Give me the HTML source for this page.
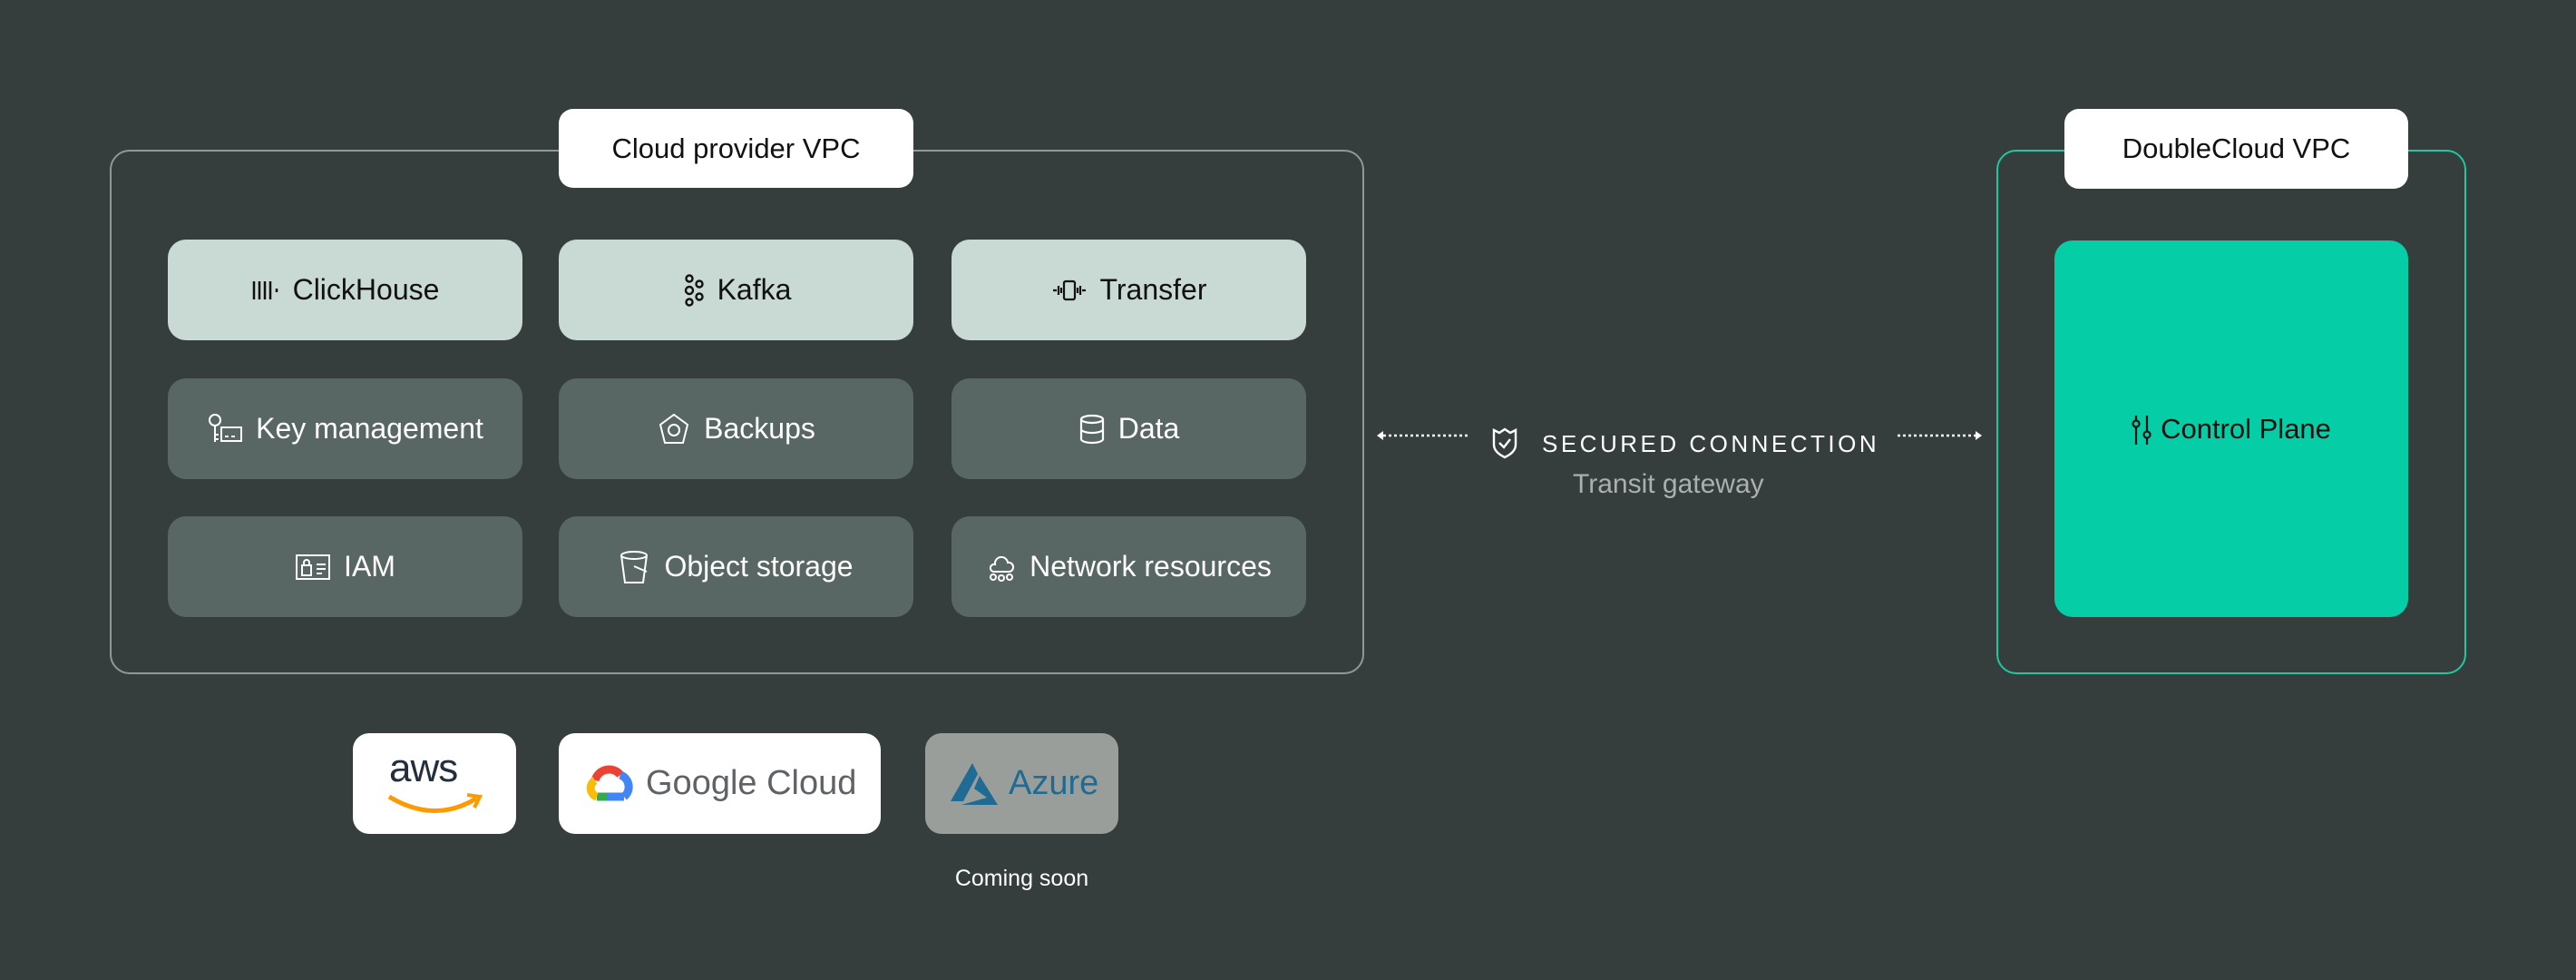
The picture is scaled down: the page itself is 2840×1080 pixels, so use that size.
<!DOCTYPE html>
<html><head><meta charset="utf-8"><style>
body{margin:0;width:2840px;height:1080px;background:#363e3d;position:relative;overflow:hidden;font-family:"Liberation Sans",sans-serif}
.a{position:absolute;box-sizing:border-box}
.box{border:2px solid #8f9a97;border-radius:22px}
.lbl{background:#fff;border-radius:16px;color:#111;font-size:31px;display:flex;align-items:center;justify-content:center}
.t{border-radius:20px;display:flex;align-items:center;justify-content:center;font-size:32px;gap:14px;width:391px;height:111px}
.l{background:#c9d9d4;color:#111}
.d{background:#586763;color:#fff}
svg{display:block}
</style></head><body>
<div class="a box" style="left:121px;top:165px;width:1383px;height:578px"></div>
<div class="a lbl" style="left:616px;top:120px;width:391px;height:87px">Cloud provider VPC</div>

<div class="a t l" style="left:185px;top:264px"><svg width="32" height="26" viewBox="0 0 32 26" stroke="#111" stroke-width="2.5"><path d="M3 3v20M9 3v20M15 3v20M21 3v20M28 11v4"/></svg>ClickHouse</div>
<div class="a t l" style="left:616px;top:264px"><svg width="26" height="36" viewBox="0 0 26 36" fill="none" stroke="#111" stroke-width="2.4"><circle cx="9" cy="5" r="3.5"/><circle cx="9" cy="18" r="4"/><circle cx="9" cy="31" r="3.5"/><circle cx="20" cy="11" r="3.5"/><circle cx="20" cy="25" r="3.5"/></svg>Kafka</div>
<div class="a t l" style="left:1049px;top:264px"><svg width="40" height="26" viewBox="0 0 40 26" fill="none" stroke="#111" stroke-width="2.2"><rect x="14" y="3" width="12" height="20" rx="2"/><path d="M2 13h4M8 8v10M11 10v6M29 10v6M32 8v10M34 13h4"/></svg>Transfer</div>

<div class="a t d" style="left:185px;top:417px"><svg width="40" height="36" viewBox="0 0 40 36" fill="none" stroke="#fff" stroke-width="2"><circle cx="9" cy="8" r="6"/><path d="M9 14v18M9 24h4M9 29h4"/><rect x="16" y="16" width="22" height="15"/><path d="M20 26h4M27 26h4"/></svg>Key management</div>
<div class="a t d" style="left:616px;top:417px"><svg width="38" height="38" viewBox="0 0 38 38" fill="none" stroke="#fff" stroke-width="2"><path d="M19 3L34 14L29 34H9L4 14Z"/><circle cx="19" cy="20" r="6"/></svg>Backups</div>
<div class="a t d" style="left:1049px;top:417px"><svg width="30" height="34" viewBox="0 0 30 34" fill="none" stroke="#fff" stroke-width="2.2"><ellipse cx="15" cy="6" rx="12" ry="4"/><path d="M3 6v22c0 2 5 4 12 4s12-2 12-4V6M3 17c0 2 5 4 12 4s12-2 12-4"/></svg>Data</div>

<div class="a t d" style="left:185px;top:569px"><svg width="40" height="30" viewBox="0 0 40 30" fill="none" stroke="#fff" stroke-width="2"><rect x="2" y="2" width="36" height="26"/><rect x="8" y="13" width="10" height="11"/><path d="M10 13v-3a3 3 0 016 0v3M24 12h10M24 17h10M24 22h6"/></svg>IAM</div>
<div class="a t d" style="left:616px;top:569px"><svg width="36" height="38" viewBox="0 0 36 38" fill="none" stroke="#fff" stroke-width="2"><ellipse cx="17" cy="6" rx="14" ry="4"/><path d="M3 6l4 30h20l4-30M17 18l14 6"/></svg>Object storage</div>
<div class="a t d" style="left:1049px;top:569px"><svg width="34" height="34" viewBox="0 0 34 34" fill="none" stroke="#fff" stroke-width="2"><path d="M10 14a7 7 0 0114-2a5 5 0 012 10H8a4 4 0 012-8z"/><circle cx="8" cy="28" r="3"/><circle cx="17" cy="29" r="3"/><circle cx="26" cy="28" r="3"/></svg>Network resources</div>

<div class="a" style="left:2201px;top:165px;width:518px;height:578px;border:2px solid #1ec9a2;border-radius:22px"></div>
<div class="a lbl" style="left:2276px;top:120px;width:379px;height:88px">DoubleCloud VPC</div>
<div class="a" style="left:2265px;top:265px;width:390px;height:415px;background:#05cda5;border-radius:20px;display:flex;align-items:center;justify-content:center;font-size:31px;color:#111;gap:10px"><svg width="22" height="34" viewBox="0 0 22 34" fill="none" stroke="#111" stroke-width="2.2"><path d="M5 2v32M17 2v32"/><circle cx="5" cy="11" r="3.5" fill="#05cda5"/><circle cx="17" cy="23" r="3.5" fill="#05cda5"/></svg>Control Plane</div>

<svg class="a" style="left:1515px;top:470px" width="110" height="20"><path d="M10 10H104" stroke="#fff" stroke-width="2.5" stroke-dasharray="3 3"/><path d="M3 10L10 5V15Z" fill="#fff"/></svg>
<svg class="a" style="left:2090px;top:470px" width="100" height="20"><path d="M2 10H88" stroke="#fff" stroke-width="2.5" stroke-dasharray="3 3"/><path d="M95 10L88 5V15Z" fill="#fff"/></svg>
<svg class="a" style="left:1643px;top:470px" width="32" height="36" viewBox="0 0 32 36" fill="none" stroke="#fff" stroke-width="2.4"><path d="M4 4l6 3 6-4 6 4 6-3v16c0 7-6 11-12 14C10 31 4 27 4 20Z"/><path d="M10 18l5 5 7-9"/></svg>
<div class="a" style="left:1700px;top:474px;color:#fff;font-size:26px;letter-spacing:3.5px;white-space:nowrap">SECURED CONNECTION</div>
<div class="a" style="left:1734px;top:517px;color:#a9b0ae;font-size:30px;white-space:nowrap">Transit gateway</div>

<div class="a" style="left:389px;top:808px;width:180px;height:111px;background:#fff;border-radius:18px"><div class="a" style="left:40px;top:14px;font-size:44px;color:#232f3e;letter-spacing:-1px">aws</div><svg class="a" style="left:34px;top:62px" width="112" height="36"><path d="M6 8Q56 38 102 10" stroke="#f90" stroke-width="5" fill="none"/><path d="M92 6L106 8L100 20" stroke="#f90" stroke-width="4" fill="none"/></svg></div>
<div class="a" style="left:616px;top:808px;width:355px;height:111px;background:#fff;border-radius:18px;display:flex;align-items:center;gap:12px;padding-left:26px"><svg width="58" height="48" viewBox="0 0 58 48" fill="none" stroke-width="9"><path d="M14 20A16 16 0 0142 14" stroke="#ea4335"/><path d="M42 14A14 14 0 0146 38" stroke="#4285f4"/><path d="M46 38H28" stroke="#4285f4"/><path d="M28 38H16" stroke="#34a853"/><path d="M16 38A10 10 0 0114 20" stroke="#fbbc05"/></svg><span style="font-size:38px;color:#5f6368">Google Cloud</span></div>
<div class="a" style="left:1020px;top:808px;width:213px;height:111px;background:#9a9e9b;border-radius:18px;display:flex;align-items:center;padding-left:24px;gap:4px"><svg width="64" height="50" viewBox="0 0 64 50"><path d="M28 2L4 44H18L34 14Z M36 16L56 48H16L44 40L30 30Z" fill="#1f6b94"/></svg><span style="font-size:38px;color:#1f6b94">Azure</span></div>
<div class="a" style="left:1020px;top:954px;width:213px;text-align:center;color:#fff;font-size:25px">Coming soon</div>
</body></html>
